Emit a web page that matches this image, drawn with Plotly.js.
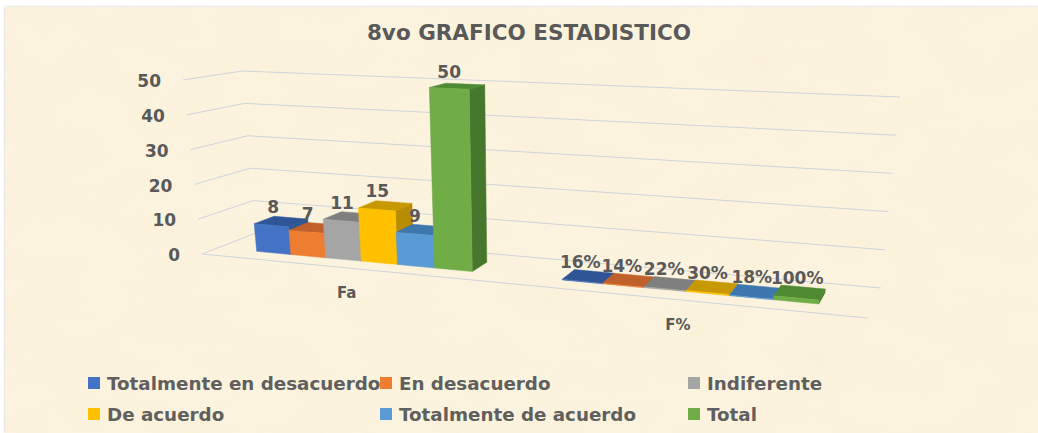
<!DOCTYPE html>
<html><head><meta charset="utf-8">
<script src="https://cdn.plot.ly/plotly-3.0.1.min.js"></script>
<style>
html,body{margin:0;padding:0;background:#fff;width:1038px;height:433px;overflow:hidden}
#panel{position:absolute;left:5px;top:7px;width:1033px;height:426px;background:#FCF3DF;box-shadow:0 0 2px #bbb}
#panel svg{position:absolute;left:0;top:0}
#chart{position:absolute;left:0;top:0;width:1038px;height:433px}
</style></head><body>
<div id="panel"><svg width="1033" height="426"><filter id="p" x="0" y="0" width="100%" height="100%"><feTurbulence type="fractalNoise" baseFrequency="0.014 0.024" numOctaves="4" seed="7"/><feColorMatrix type="matrix" values="0 0 0 0 0.95  0 0 0 0 0.86  0 0 0 0 0.62  1.5 0 0 0 -0.6"/></filter><rect width="1033" height="426" filter="url(#p)" opacity="0.55"/></svg></div>
<div id="chart"></div>
<script>
var chartTitle = '8vo GRAFICO ESTADISTICO';
var categories = ['Fa', 'F%'];
var seriesNames = ['Totalmente en desacuerdo', 'En desacuerdo', 'Indiferente', 'De acuerdo', 'Totalmente de acuerdo', 'Total'];
var valuesFa = [8, 7, 11, 15, 9, 50];
var valuesPct = [0.16, 0.14, 0.22, 0.30, 0.18, 1.00];
var ticks = [0, 10, 20, 30, 40, 50];
var frontColors = ['#4472C4', '#ED7D31', '#A5A5A5', '#FFC000', '#5B9BD5', '#70AD47'];
var topColors = ['#2F5597', '#C0602A', '#7F7F7F', '#C79800', '#3E76AE', '#4F8A32'];
var sideColors = ['#2F5597', '#B85A20', '#7F7F7F', '#B88C00', '#3E76AE', '#47762D'];

// Projection of the 3-D box: t along categories, w in depth, v on the value axis
var vMax = 50;
var floorFL = [202, 254], floorFR = [868, 318], floorBL = [256, 233], floorBR = [881, 288];
var topFL = [183, 80], topFR = [888, 113], topBL = [242, 71], topBR = [900, 97];
var persp = 1.19, gapWidth = 2.3, w0 = 0.3, w1 = 0.68;
function lerp(a, b, f) { return [a[0] + (b[0] - a[0]) * f, a[1] + (b[1] - a[1]) * f]; }
function warp(u) { return u / (u + persp * (1 - u)); }
function P(u, w, v) {
  var t = warp(u);
  var fl = lerp(lerp(floorFL, floorFR, t), lerp(floorBL, floorBR, t), w);
  var tp = lerp(lerp(topFL, topFR, t), lerp(topBL, topBR, t), w);
  return lerp(fl, tp, v / vMax);
}
function barU(cat, i) { return (cat + (gapWidth / 2 + i) / (6 + gapWidth)) / categories.length; }

var traces = [];
function poly(pts, color) {
  var xs = pts.map(function (p) { return p[0]; }), ys = pts.map(function (p) { return p[1]; });
  xs.push(xs[0]); ys.push(ys[0]);
  traces.push({ type: 'scatter', mode: 'lines', x: xs, y: ys, fill: 'toself', fillcolor: color,
    line: { color: color, width: 0.5 }, showlegend: false, hoverinfo: 'skip' });
}
function seg(a, b) {
  traces.push({ type: 'scatter', mode: 'lines', x: [a[0], b[0]], y: [a[1], b[1]],
    line: { color: '#CFD4DC', width: 1 }, showlegend: false, hoverinfo: 'skip' });
}
function label(p, text, size, pos) {
  traces.push({ type: 'scatter', mode: 'text', x: [p[0]], y: [p[1]], text: [text], textposition: pos || 'middle center',
    textfont: { family: 'DejaVu Sans', size: size, weight: 700, color: '#595959' }, showlegend: false, hoverinfo: 'skip', cliponaxis: false });
}

// gridlines
ticks.forEach(function (v) {
  seg(P(0, 0, v), P(0, 1, v));
  seg(P(0, 1, v), P(1, 1, v));
  var a = P(0, 0, v);
  label([a[0] - 22, a[1] + 3], String(v), 17, 'middle left');
});
seg(P(0, 0, 0), P(1, 0, 0));

// bars, left to right
[valuesFa, valuesPct].forEach(function (vals, c) {
  vals.forEach(function (val, i) {
    var a = barU(c, i), b = barU(c, i + 1);
    poly([P(b, w0, 0), P(b, w1, 0), P(b, w1, val), P(b, w0, val)], sideColors[i]);
    poly([P(a, w0, val), P(b, w0, val), P(b, w1, val), P(a, w1, val)], topColors[i]);
    poly([P(a, w0, 0), P(b, w0, 0), P(b, w0, val), P(a, w0, val)], frontColors[i]);
  });
});
[valuesFa, valuesPct].forEach(function (vals, c) {
  vals.forEach(function (val, i) {
    var p = P((barU(c, i) + barU(c, i + 1)) / 2, (w0 + w1) / 2, val);
    var text = c === 0 ? String(val) : Math.round(val * 100) + '%';
    label([p[0] - 8 + c * i * 1.1, p[1] - 12.5], text, 17);
  });
});
// category labels
categories.forEach(function (name, c) {
  var p = P((c + 0.5) / categories.length, 0, 0);
  label([p[0] - 1, p[1] + 26], name, 15);
});
// legend: one box per entry, so that the columns can keep their own widths
var legendColumns = [107, 399, 707];
var legendRows = [383, 414];
var layoutLegends = {};
seriesNames.forEach(function (name, i) {
  var key = i === 0 ? 'legend' : 'legend' + (i + 1);
  traces.push({ type: 'bar', x: [-5000, -4000], y: [valuesFa[i], valuesPct[i]], name: name,
    marker: { color: frontColors[i] }, legend: key, hoverinfo: 'skip' });
  layoutLegends[key] = { x: (legendColumns[i % 3] - 40) / 1038, y: 1 - legendRows[Math.floor(i / 3)] / 433,
    xanchor: 'left', yanchor: 'middle', bgcolor: 'rgba(0,0,0,0)', itemwidth: 30,
    font: { family: 'DejaVu Sans', size: 18.3, weight: 700, color: '#5f5f5f' } };
});

var layout = Object.assign({
  width: 1038, height: 433, margin: { l: 0, r: 0, t: 0, b: 0 },
  paper_bgcolor: 'rgba(0,0,0,0)', plot_bgcolor: 'rgba(0,0,0,0)',
  title: { text: chartTitle, x: 529 / 1038, xanchor: 'center', y: 1 - 32 / 433, yanchor: 'middle',
    font: { family: 'DejaVu Sans', size: 21.5, weight: 700, color: '#595959' } },
  xaxis: { range: [0, 1038], visible: false, fixedrange: true },
  yaxis: { range: [433, 0], visible: false, fixedrange: true },
  showlegend: true
}, layoutLegends);
Plotly.newPlot('chart', traces, layout, { staticPlot: true, displayModeBar: false }).then(function () {
  document.querySelectorAll('#chart .legendsymbols').forEach(function (g) { g.setAttribute('transform', 'translate(7,0)'); });
});
</script>
</body></html>
